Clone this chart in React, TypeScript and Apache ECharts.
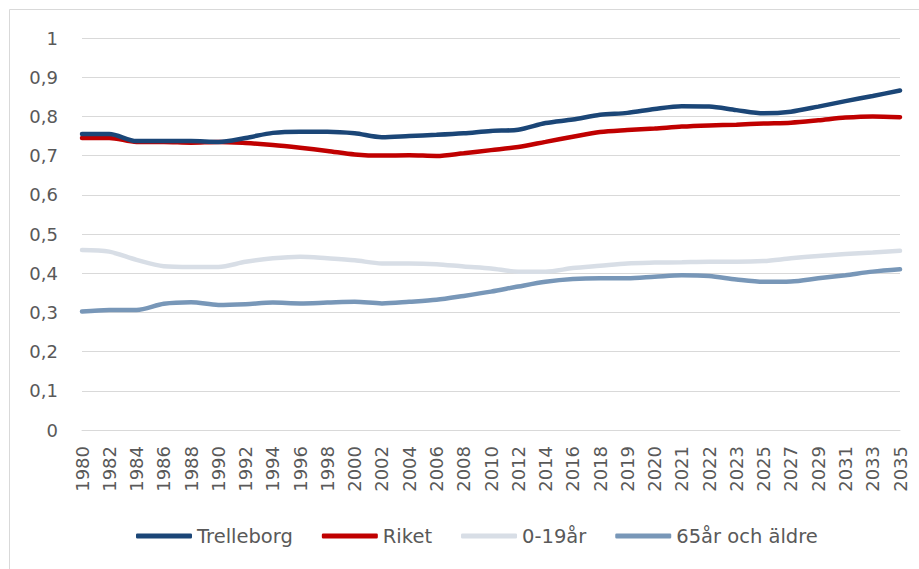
import React, { useEffect, useRef } from "react";
import * as echarts from "echarts";

const years = [
  "1980", "1982", "1984", "1986", "1988", "1990", "1992", "1994", "1996", "1998",
  "2000", "2002", "2004", "2006", "2008", "2010", "2012", "2014", "2016", "2018",
  "2019", "2020", "2021", "2022", "2023", "2025", "2027", "2029", "2031", "2033", "2035",
];

const trelleborg = [
  0.755, 0.755, 0.737, 0.737, 0.737, 0.735, 0.745, 0.758, 0.761, 0.761,
  0.757, 0.747, 0.750, 0.753, 0.757, 0.763, 0.766, 0.783, 0.792, 0.804,
  0.809, 0.819, 0.826, 0.825, 0.816, 0.808, 0.812, 0.825, 0.839, 0.852, 0.866,
];

const riket = [
  0.745, 0.745, 0.735, 0.735, 0.733, 0.735, 0.732, 0.727, 0.720, 0.712,
  0.703, 0.700, 0.701, 0.699, 0.706, 0.714, 0.722, 0.735, 0.748, 0.760,
  0.765, 0.769, 0.774, 0.777, 0.779, 0.782, 0.784, 0.790, 0.797, 0.800, 0.798,
];

const age0to19 = [
  0.459, 0.455, 0.434, 0.418, 0.416, 0.416, 0.429, 0.438, 0.442, 0.438,
  0.433, 0.425, 0.425, 0.423, 0.417, 0.412, 0.404, 0.404, 0.413, 0.419,
  0.425, 0.427, 0.428, 0.429, 0.429, 0.431, 0.438, 0.444, 0.449, 0.453, 0.457,
];

const age65plus = [
  0.302, 0.306, 0.306, 0.322, 0.326, 0.319, 0.321, 0.325, 0.323, 0.325,
  0.327, 0.323, 0.327, 0.332, 0.342, 0.353, 0.366, 0.378, 0.385, 0.387,
  0.387, 0.391, 0.395, 0.393, 0.384, 0.378, 0.379, 0.387, 0.395, 0.404, 0.410,
];

const seriesNames = ["Trelleborg", "Riket", "0-19år", "65år och äldre"];
const seriesColors = ["#1b4677", "#c00000", "#d8dee6", "#7897b8"];

export default function App() {
  const ref = useRef<HTMLDivElement>(null);

  useEffect(() => {
    document.body.style.margin = "0";
    if (!ref.current) return;
    const chart = echarts.init(ref.current, null, { renderer: "svg" });
    const data = [trelleborg, riket, age0to19, age65plus];
    const font = "DejaVu Sans";
    chart.setOption({
      animation: false,
      backgroundColor: "#ffffff",
      textStyle: { fontFamily: font },
      graphic: [
        {
          type: "rect",
          shape: { x: 9.5, y: 9.5, width: 930, height: 580 },
          style: { fill: "none", stroke: "#d9d9d9", lineWidth: 1 },
          silent: true,
        },
      ],
      grid: { left: 82, right: 19, top: 38, bottom: 139, containLabel: false },
      legend: {
        left: 131,
        top: 521,
        itemWidth: 56,
        itemHeight: 5,
        itemGap: 29,
        icon: "roundRect",
        textStyle: { fontFamily: font, fontSize: 19.5, color: "#595959" },
        data: seriesNames,
      },
      xAxis: {
        type: "category",
        data: years,
        boundaryGap: false,
        axisLine: { show: true, lineStyle: { color: "#d9d9d9", width: 1 } },
        axisTick: { show: false },
        axisLabel: {
          interval: 0,
          rotate: 90,
          margin: 16,
          fontFamily: font,
          fontSize: 18,
          color: "#595959",
        },
      },
      yAxis: {
        type: "value",
        min: 0,
        max: 1,
        interval: 0.1,
        axisLine: { show: false },
        axisTick: { show: false },
        splitLine: { lineStyle: { color: "#d9d9d9", width: 1 } },
        axisLabel: {
          margin: 24,
          fontFamily: font,
          fontSize: 18,
          color: "#595959",
          formatter: (v: number) => {
            const r = Math.round(v * 10) / 10;
            return String(r).replace(".", ",");
          },
        },
      },
      series: seriesNames.map((name, i) => ({
        name,
        type: "line",
        data: data[i],
        smooth: 0.3,
        symbol: "none",
        z: 10 - i,
        lineStyle: { color: seriesColors[i], width: 4.5, cap: "round" },
        itemStyle: { color: seriesColors[i] },
      })),
    });
    return () => chart.dispose();
  }, []);

  return <div ref={ref} style={{ width: 919, height: 569 }} />;
}
